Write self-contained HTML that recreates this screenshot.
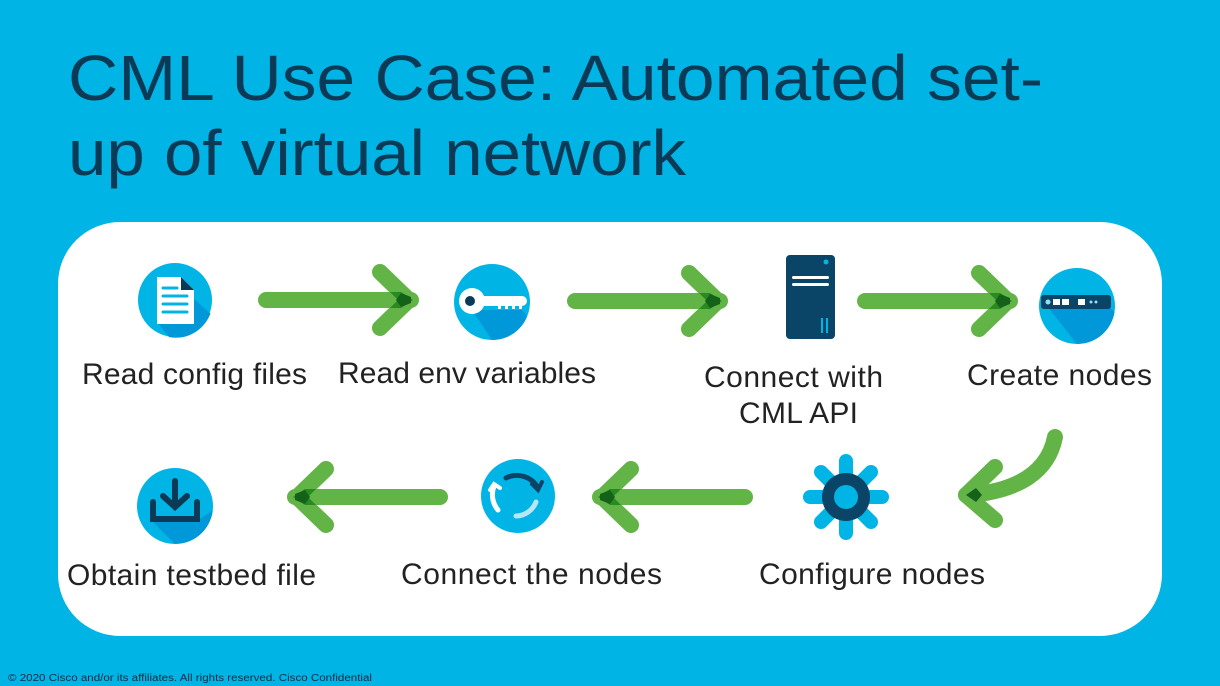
<!DOCTYPE html>
<html><head><meta charset="utf-8"><style>
html,body{margin:0;padding:0;background:#00b5e5;}
svg{display:block}
text{font-family:"Liberation Sans",sans-serif;}
</style></head><body>
<svg width="1220" height="686" viewBox="0 0 1220 686" xmlns="http://www.w3.org/2000/svg">
<rect width="1220" height="686" fill="#00b5e5"/>
<text x="68" y="100" font-size="64" fill="#0a3a55" textLength="975" lengthAdjust="spacingAndGlyphs">CML Use Case: Automated set-</text>
<text x="68" y="175" font-size="64" fill="#0a3a55" textLength="618" lengthAdjust="spacingAndGlyphs">up of virtual network</text>
<rect x="58" y="222" width="1104" height="414" rx="62" fill="#fff"/>

<defs>
<g id="arr">
<line x1="0" y1="0" x2="145" y2="0" stroke="#62b446" stroke-width="16" stroke-linecap="round"/>
<line x1="114" y1="-28" x2="143" y2="0" stroke="#62b446" stroke-width="16" stroke-linecap="round"/>
<line x1="114" y1="28" x2="143" y2="0" stroke="#62b446" stroke-width="16" stroke-linecap="round"/>
<path d="M124 -8 L135 -8 L147 0 L135 8 L124 8 L132 0Z" fill="#2a8a22"/>
<path d="M135 -7 L145 -3 L145 3 L135 7 L130 0Z" fill="#14621a"/>
</g>
<clipPath id="cc"><circle cx="0" cy="0" r="38"/></clipPath>
</defs>

<use href="#arr" transform="translate(266,300)"/>
<use href="#arr" transform="translate(575,301)"/>
<use href="#arr" transform="translate(865,301)"/>
<use href="#arr" transform="translate(745,497) scale(-1,1)"/>
<use href="#arr" transform="translate(440,497) scale(-1,1)"/>
<path d="M1055 437 Q1045 488 970 495" fill="none" stroke="#62b446" stroke-width="16" stroke-linecap="round"/>
<line x1="995" y1="467" x2="966" y2="495" stroke="#62b446" stroke-width="16" stroke-linecap="round"/>
<line x1="995" y1="520" x2="966" y2="495" stroke="#62b446" stroke-width="16" stroke-linecap="round"/>
<path d="M976 488 L966 495 L976 502 L982 495Z" fill="#14621a"/>

<g transform="translate(175,300)">
<circle r="37" fill="#00b5e5"/>
<path d="M0 -18 L36 14 A37 37 0 0 1 -6 37 L-18 22Z" fill="#0098d8" clip-path="url(#cc)"/>
<path d="M-18 -23 L6 -23 L19 -10 L19 24 L-18 24Z" fill="#fff"/>
<path d="M6 -23 L19 -10 L6 -10Z" fill="#0a3a55"/>
<g stroke="#00b5e5" stroke-width="3" stroke-linecap="round"><line x1="-12" y1="-12" x2="2" y2="-12"/><line x1="-12" y1="-4" x2="12" y2="-4"/><line x1="-12" y1="4" x2="12" y2="4"/><line x1="-12" y1="12" x2="12" y2="12"/></g>
</g>
<g transform="translate(492,302)">
<circle r="38" fill="#00b5e5"/>
<path d="M-20 8 L30 8 L40 20 A38 38 0 0 1 0 38Z" fill="#0098d8" clip-path="url(#cc)"/>
<circle cx="-20" cy="-1" r="13" fill="#fff"/>
<rect x="-20" y="-6" width="55" height="10" rx="5" fill="#fff"/>
<g fill="#fff"><rect x="6" y="2" width="3" height="5"/><rect x="13" y="2" width="3" height="5"/><rect x="20" y="2" width="3" height="5"/><rect x="27" y="2" width="3" height="5"/></g>
<circle cx="-22" cy="-1" r="5" fill="#0a3a55"/>
</g>
<rect x="786" y="255" width="49" height="84" rx="4" fill="#0a4466"/>
<circle cx="826" cy="262" r="2.5" fill="#00b5e5"/>
<rect x="792" y="276" width="37" height="3" rx="1.5" fill="#fff"/>
<rect x="792" y="283" width="37" height="3" rx="1.5" fill="#fff"/>
<rect x="821" y="318" width="2" height="15" fill="#00b5e5"/>
<rect x="826" y="318" width="2" height="15" fill="#00b5e5"/>
<g transform="translate(1077,306)">
<circle r="38" fill="#00b5e5"/>
<path d="M-30 0 L30 0 L38 6 A38 38 0 0 1 0 38Z" fill="#0098d8" clip-path="url(#cc)"/>
<rect x="-36" y="-11" width="70" height="14" rx="3" fill="#0a4466"/>
<circle cx="-29" cy="-4" r="2.5" fill="#8fe0f7"/>
<rect x="-24" y="-7" width="7" height="6" fill="#fff"/><rect x="-15" y="-7" width="7" height="6" fill="#fff"/><rect x="1" y="-7" width="7" height="6" fill="#fff"/>
<circle cx="14" cy="-4" r="1.5" fill="#8fe0f7"/><circle cx="19" cy="-4" r="1.5" fill="#8fe0f7"/>
</g>
<g transform="translate(846,497)">
<g stroke="#00b5e5" stroke-width="14" stroke-linecap="round">
<line x1="0" y1="-36" x2="0" y2="36"/><line x1="-36" y1="0" x2="36" y2="0"/>
<line x1="-25" y1="-25" x2="25" y2="25"/><line x1="-25" y1="25" x2="25" y2="-25"/>
</g>
<circle r="24" fill="#0a4466"/><circle r="12" fill="#00b5e5"/>
</g>
<g transform="translate(518,496)">
<circle r="37" fill="#00b5e5"/>
<path d="M-12 -18 A24 24 0 0 1 20 -8" fill="none" stroke="#0a4466" stroke-width="5" stroke-linecap="round"/>
<path d="M14 -12 L20 -6 L24 -14" fill="none" stroke="#0a4466" stroke-width="4" stroke-linecap="round"/>
<path d="M18 6 A22 22 0 0 1 -2 20" fill="none" stroke="#b8e6f7" stroke-width="5" stroke-linecap="round"/>
<path d="M-20 14 A24 24 0 0 1 -24 -10" fill="none" stroke="#fff" stroke-width="5" stroke-linecap="round"/>
<path d="M-28 -6 L-24 -12 L-18 -8" fill="none" stroke="#fff" stroke-width="4" stroke-linecap="round"/>
</g>
<g transform="translate(175,506)">
<circle r="38" fill="#00b5e5"/>
<path d="M-25 13 L25 13 L38 4 A38 38 0 0 1 0 38 Z" fill="#0098d8" clip-path="url(#cc)"/>
<g stroke="#0a3a55" stroke-width="6" stroke-linecap="round" fill="none">
<line x1="0" y1="-25" x2="0" y2="-3"/><path d="M-12 -10 L0 1 L12 -10"/>
<path d="M-22 -4 L-22 13 L22 13 L22 -4"/>
</g>
</g>

<g font-size="30" fill="#222" lengthAdjust="spacingAndGlyphs">
<text x="82" y="384" textLength="225">Read config files</text>
<text x="338" y="383" textLength="258">Read env variables</text>
<text x="704" y="387" textLength="179">Connect with</text>
<text x="739" y="423" textLength="119">CML API</text>
<text x="967" y="385" textLength="185">Create nodes</text>
<text x="67" y="585" textLength="249">Obtain testbed file</text>
<text x="401" y="584" textLength="261">Connect the nodes</text>
<text x="759" y="584" textLength="226">Configure nodes</text>
</g>
<text x="8" y="681" font-size="10" fill="#0a2a40" textLength="364" lengthAdjust="spacingAndGlyphs">© 2020  Cisco and/or its affiliates. All rights reserved.   Cisco Confidential</text>
</svg>
</body></html>
